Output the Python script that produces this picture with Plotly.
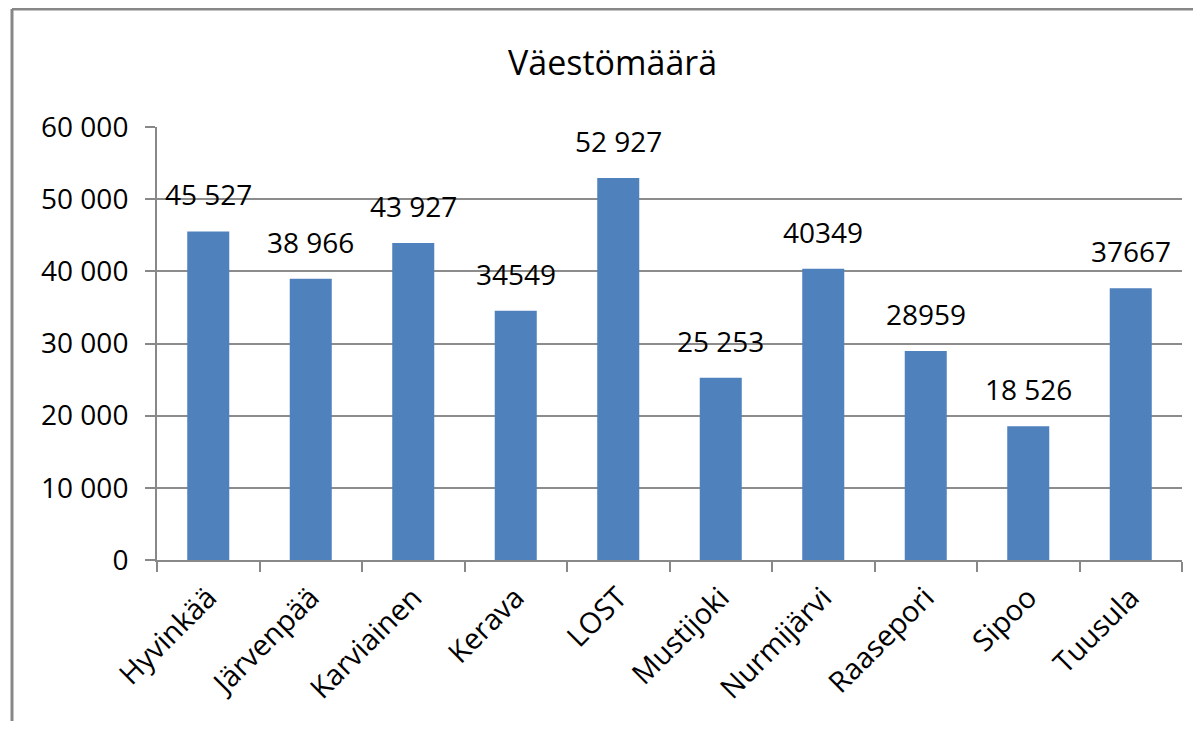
import plotly.graph_objects as go

categories = ["Hyvinkää", "Järvenpää", "Karviainen", "Kerava", "LOST",
              "Mustijoki", "Nurmijärvi", "Raasepori", "Sipoo", "Tuusula"]
values = [45527, 38966, 43927, 34549, 52927, 25253, 40349, 28959, 18526, 37667]
value_labels = ["45 527", "38 966", "43 927", "34549", "52 927",
                "25 253", "40349", "28959", "18 526", "37667"]
y_tickvals = [0, 10000, 20000, 30000, 40000, 50000, 60000]
y_ticktext = ["0", "10 000", "20 000", "30 000", "40 000", "50 000", "60 000"]
title_text = "Väestömäärä"

FONT = "'Open Sans', Lato, sans-serif"

# page offset caused by default body margin
OFF = 8
W, H = 1185, 713
plot_left, plot_right, plot_top, plot_bottom = 157, 1182, 127, 560  # page coords
ml = plot_left - OFF
mr = W - (plot_right - OFF)
mt = plot_top - OFF
mb = H - (plot_bottom - OFF)
pw = plot_right - plot_left
ph = plot_bottom - plot_top


def px(xp):
    return (xp - plot_left) / pw


def py(yp):
    return (plot_bottom - yp) / ph


fig = go.Figure(go.Bar(x=categories, y=values, marker=dict(color="#4F81BD", line=dict(width=0)),
                       hoverinfo="x+y"))

for c, v, t in zip(categories, values, value_labels):
    fig.add_annotation(x=c, y=v, text=t, showarrow=False, yanchor="bottom",
                       yshift=16, font=dict(family=FONT, size=28, color="#000"))

fig.add_annotation(xref="paper", yref="paper", x=px(612), y=py(62),
                   text=title_text, showarrow=False, xanchor="center", yanchor="middle",
                   font=dict(family=FONT, size=34, color="#000"))

# chart border (left and top visible)
fig.add_shape(type="line", xref="paper", yref="paper", x0=px(12), x1=px(12), y0=py(9), y1=-1,
              line=dict(color="#878787", width=3))
fig.add_shape(type="line", xref="paper", yref="paper", x0=px(12), x1=1.2, y0=py(9), y1=py(9),
              line=dict(color="#878787", width=3))

fig.update_layout(
    width=W, height=H,
    margin=dict(l=ml, r=mr, t=mt, b=mb, autoexpand=False),
    paper_bgcolor="white", plot_bgcolor="white",
    bargap=0.59, showlegend=False,
    font=dict(family=FONT, size=28, color="#000"),
    xaxis=dict(type="category", tickangle=-45, tickson="boundaries", ticks="outside",
               ticklen=10, tickcolor="#888", tickwidth=2, showline=True, linecolor="#888",
               linewidth=2, showgrid=False, ticklabelstandoff=7,
               tickfont=dict(family=FONT, size=29, color="#000")),
    yaxis=dict(range=[0, 60000], tickvals=y_tickvals, ticktext=y_ticktext, ticks="outside",
               ticklen=10, tickcolor="#888", tickwidth=2, showline=True, linecolor="#888",
               linewidth=2, gridcolor="#8c8c8c", gridwidth=1.5, zeroline=False,
               ticklabelstandoff=11,
               tickfont=dict(family=FONT, size=28, color="#000")),
)

fig.write_html("out.html")
